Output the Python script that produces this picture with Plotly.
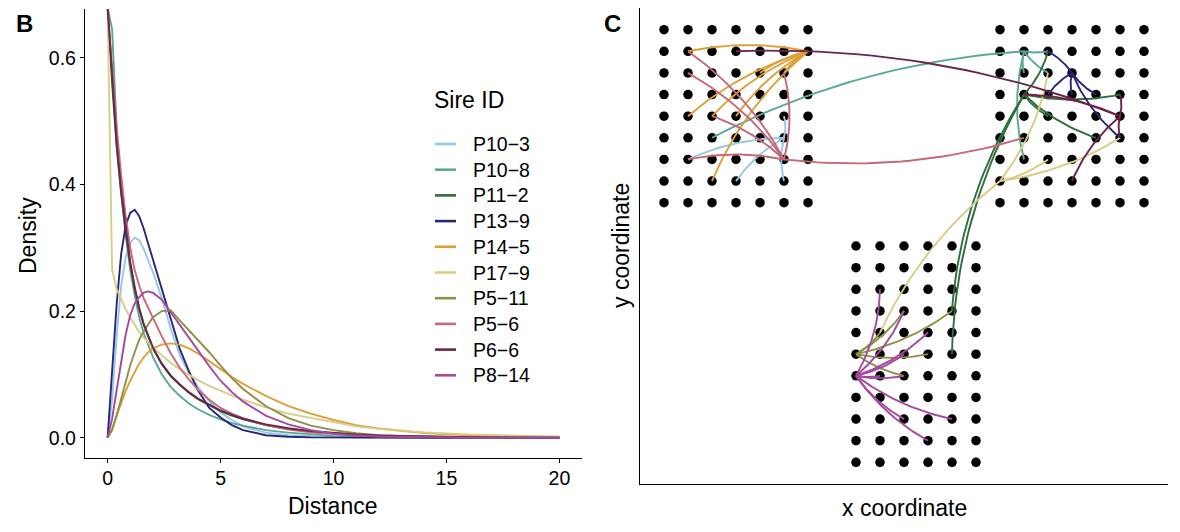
import numpy as np
import plotly.graph_objects as go

# ---- panel B: dispersal kernels ----
distance = [0, 0.2, 0.4, 0.6, 0.8, 1.0, 1.2, 1.4, 1.6, 1.8, 2.0, 2.4, 2.8, 3.2, 3.6,
            4.0, 4.5, 5.0, 5.5, 6.0, 7.0, 8.0, 9.0, 10, 11, 12, 14, 16, 18, 20]

dens_P10_3 = [0, 0.06, 0.16, 0.24, 0.285, 0.308, 0.316, 0.312, 0.298, 0.28, 0.262, 0.22, 0.172, 0.13, 0.102,
              0.08, 0.058, 0.04, 0.028, 0.018, 0.008, 0.004, 0.002, 0.001, 0.0005, 0.0002, 0, 0, 0, 0]
dens_P10_8 = [0.68, 0.645, 0.49, 0.39, 0.32, 0.265, 0.225, 0.19, 0.165, 0.145, 0.128, 0.1, 0.08, 0.066, 0.054,
              0.045, 0.036, 0.029, 0.023, 0.019, 0.012, 0.008, 0.005, 0.003, 0.002, 0.0013, 0.0005, 0.0002, 0.0001, 0]
dens_P11_2 = [0.68, 0.56, 0.46, 0.385, 0.325, 0.275, 0.235, 0.203, 0.178, 0.158, 0.141, 0.116, 0.097, 0.083, 0.071,
              0.061, 0.051, 0.042, 0.035, 0.029, 0.02, 0.014, 0.0098, 0.0068, 0.0047, 0.0033, 0.0016, 0.0008, 0.0004, 0.0002]
dens_P13_9 = [0, 0.1, 0.21, 0.29, 0.335, 0.355, 0.36, 0.35, 0.33, 0.306, 0.282, 0.235, 0.185, 0.14, 0.105,
              0.075, 0.047, 0.032, 0.02, 0.012, 0.004, 0.0015, 0.0005, 0.0002, 0, 0, 0, 0, 0, 0]
dens_P14_5 = [0, 0.014, 0.035, 0.055, 0.074, 0.09, 0.104, 0.117, 0.127, 0.135, 0.141, 0.147, 0.149, 0.147, 0.141,
              0.133, 0.121, 0.108, 0.096, 0.085, 0.066, 0.05, 0.038, 0.028, 0.02, 0.0145, 0.0075, 0.0038, 0.0019, 0.001]
dens_P17_9 = [0.68, 0.265, 0.235, 0.218, 0.203, 0.19, 0.178, 0.167, 0.158, 0.15, 0.143, 0.13, 0.118, 0.108, 0.099,
              0.091, 0.082, 0.074, 0.067, 0.06, 0.048, 0.038, 0.031, 0.024, 0.018, 0.014, 0.0085, 0.005, 0.003, 0.002]
dens_P5_11 = [0, 0.012, 0.035, 0.062, 0.09, 0.114, 0.135, 0.155, 0.168, 0.18, 0.19, 0.2, 0.201, 0.185, 0.17,
              0.155, 0.135, 0.114, 0.094, 0.077, 0.05, 0.031, 0.019, 0.012, 0.007, 0.004, 0.0013, 0.0004, 0.0001, 0]
dens_P5_6 = [0.68, 0.58, 0.49, 0.415, 0.35, 0.3, 0.265, 0.24, 0.22, 0.205, 0.19, 0.16, 0.133, 0.11, 0.092,
             0.076, 0.06, 0.047, 0.038, 0.031, 0.02, 0.013, 0.0085, 0.0055, 0.0036, 0.0024, 0.001, 0.0005, 0.0002, 0.0001]
dens_P6_6 = [0.68, 0.565, 0.465, 0.39, 0.33, 0.278, 0.238, 0.205, 0.18, 0.16, 0.143, 0.117, 0.098, 0.084, 0.072,
             0.062, 0.052, 0.043, 0.036, 0.03, 0.021, 0.015, 0.0105, 0.0072, 0.005, 0.0035, 0.0017, 0.0008, 0.0004, 0.0002]
dens_P8_14 = [0, 0.03, 0.075, 0.12, 0.163, 0.193, 0.212, 0.222, 0.229, 0.231, 0.229, 0.218, 0.198, 0.177, 0.158,
              0.138, 0.113, 0.09, 0.072, 0.057, 0.035, 0.021, 0.012, 0.0065, 0.0035, 0.002, 0.0007, 0.0002, 0.0001, 0]

sire_ids = ["P10-3", "P10-8", "P11-2", "P13-9", "P14-5", "P17-9", "P5-11", "P5-6", "P6-6", "P8-14"]
densities = [dens_P10_3, dens_P10_8, dens_P11_2, dens_P13_9, dens_P14_5,
             dens_P17_9, dens_P5_11, dens_P5_6, dens_P6_6, dens_P8_14]
sire_colors = ["#95c8e2", "#5aa898", "#2e6e3c", "#29257c", "#dd9f38",
               "#d8cc86", "#8f9046", "#c56877", "#6c2449", "#a44a9d"]

# ---- panel C: plot layout (grid units) and pollination links ----
top_left_cols = [0, 1, 2, 3, 4, 5, 6]
top_right_cols = [14, 15, 16, 17, 18, 19, 20]
top_rows = [12, 13, 14, 15, 16, 17, 18, 19, 20]
bottom_cols = [8, 9, 10, 11, 12, 13]
bottom_rows = [0, 1, 2, 3, 4, 5, 6, 7, 8, 9, 10]

# sire position for each sire id (same order as sire_ids)
hub_x = [5, 15, 15, 17, 6, 14, 8, 5, 19, 8]
hub_y = [15, 19, 17, 18, 19, 13, 5, 14, 16, 4]

# offspring positions, one entry per link
link_sire = ["P10-3"] * 4 + ["P10-8"] * 5 + ["P11-2"] * 6 + ["P13-9"] * 5 + ["P14-5"] * 7 \
    + ["P17-9"] * 4 + ["P5-11"] * 5 + ["P5-6"] * 6 + ["P6-6"] * 5 + ["P8-14"] * 9
link_x = [1, 3, 5, 5,
          2, 16, 16, 15, 15,
          16, 16, 18, 19, 12, 12,
          16, 16, 17, 18, 19,
          1, 1, 2, 3, 4, 5, 2,
          16, 19, 16, 9,
          12, 11, 10, 10, 9,
          1, 1, 2, 5, 1, 15,
          3, 15, 19, 19, 17,
          9, 10, 11, 10, 9, 10, 12, 10, 11]
link_y = [14, 13, 13, 16,
          15, 19, 18, 18, 14,
          19, 16, 15, 17, 7, 5,
          19, 17, 17, 17, 15,
          19, 16, 16, 16, 18, 18, 13,
          14, 15, 18, 6,
          7, 5, 4, 7, 6,
          19, 18, 16, 18, 14, 15,
          19, 17, 17, 15, 13,
          8, 7, 6, 5, 4, 4, 2, 2, 1]

FONT = "Liberation Sans, Arial, sans-serif"
W, H = 1172, 524          # page has an 8px body margin in the 1180x532 window


def px(x):                # page pixel -> paper x
    return (x - 8) / W


def py(y):                # page pixel -> paper y
    return 1 - (y - 8) / H


def curve(x0, y0, x1, y1, bend=0.115, n=30):
    # quadratic bezier bowing to the right of the start->end direction (like geom_curve)
    mx, my = (x0 + x1) / 2, (y0 + y1) / 2
    cx, cy = mx + bend * (y1 - y0), my - bend * (x1 - x0)
    t = np.linspace(0, 1, n)
    bx = (1 - t) ** 2 * x0 + 2 * (1 - t) * t * cx + t ** 2 * x1
    by = (1 - t) ** 2 * y0 + 2 * (1 - t) * t * cy + t ** 2 * y1
    return list(bx), list(by)


def label(text, x, y, size, **kw):
    return dict(text=text, x=px(x), y=py(y), xref="paper", yref="paper", showarrow=False,
                xanchor=kw.pop("xanchor", "center"), yanchor=kw.pop("yanchor", "middle"),
                font=dict(size=size), **kw)


fig = go.Figure()

for sid, dens, col in zip(sire_ids, densities, sire_colors):
    fig.add_trace(go.Scatter(x=distance, y=dens, mode="lines", name=sid, showlegend=False,
                             line=dict(color=col, width=1.9), xaxis="x", yaxis="y"))

# grid of plants
dot_x, dot_y = [], []
for cols, rows in [(top_left_cols, top_rows), (top_right_cols, top_rows), (bottom_cols, bottom_rows)]:
    for r in rows:
        for c in cols:
            dot_x.append(c)
            dot_y.append(r)
fig.add_trace(go.Scatter(x=dot_x, y=dot_y, mode="markers", showlegend=False,
                         marker=dict(color="black", size=9.5), xaxis="x2", yaxis="y2"))

for i, sid in enumerate(sire_ids):
    xs, ys = [], []
    for s, ox, oy in zip(link_sire, link_x, link_y):
        if s != sid:
            continue
        bx, by = curve(hub_x[i], hub_y[i], ox, oy)
        xs += bx + [None]
        ys += by + [None]
    fig.add_trace(go.Scatter(x=xs, y=ys, mode="lines", showlegend=False, name=sid,
                             line=dict(color=sire_colors[i], width=1.9), xaxis="x2", yaxis="y2"))

# legend drawn by hand (ggplot style: short key, tight rows)
shapes = []
annotations = [label("Sire ID", 432, 100, 23, xanchor="left")]
for i, sid in enumerate(sire_ids):
    yc = 144 + i * 25.7
    shapes.append(dict(type="line", xref="paper", yref="paper", x0=px(435), x1=px(456),
                       y0=py(yc), y1=py(yc), line=dict(color=sire_colors[i], width=2.6)))
    annotations.append(label(sid.replace("-", "\u2212"), 471, yc, 19.5, xanchor="left"))

annotations += [
    label("<b>B</b>", 24, 8, 24, yanchor="top"),
    label("<b>C</b>", 612, 8, 24, yanchor="top"),
    label("Distance", 332.5, 506, 23),
    label("Density", 28, 236, 23, textangle=-90),
    label("x coordinate", 904, 508, 23),
    label("y coordinate", 621, 246, 23, textangle=-90),
]

axis_common = dict(showgrid=False, zeroline=False, showline=True, linecolor="black", linewidth=1.3)

fig.update_layout(
    width=W, height=H,
    margin=dict(l=0, r=0, t=0, b=0),
    paper_bgcolor="white", plot_bgcolor="white",
    font=dict(family=FONT, color="black"),
    showlegend=False,
    xaxis=dict(domain=[px(85), px(582)], range=[-1, 21], tickvals=[0, 5, 10, 15, 20],
               ticks="outside", ticklen=4, tickcolor="black", tickwidth=1.2,
               ticklabelstandoff=-2, tickfont=dict(size=19.5, color="black"), **axis_common),
    yaxis=dict(domain=[py(458), py(9)], range=[-0.032, 0.677], tickvals=[0, 0.2, 0.4, 0.6],
               tickformat=".1f", ticks="outside", ticklen=4, tickcolor="black", tickwidth=1.2,
               ticklabelstandoff=0, tickfont=dict(size=19.5, color="black"), **axis_common),
    xaxis2=dict(domain=[px(640), px(1168)], range=[-1, 21], showticklabels=False, ticks="",
                anchor="y2", **axis_common),
    yaxis2=dict(domain=[py(484), py(8)], range=[-1, 21], showticklabels=False, ticks="",
                anchor="x2", **axis_common),
    shapes=shapes,
    annotations=annotations,
)

fig.write_html("out.html")
